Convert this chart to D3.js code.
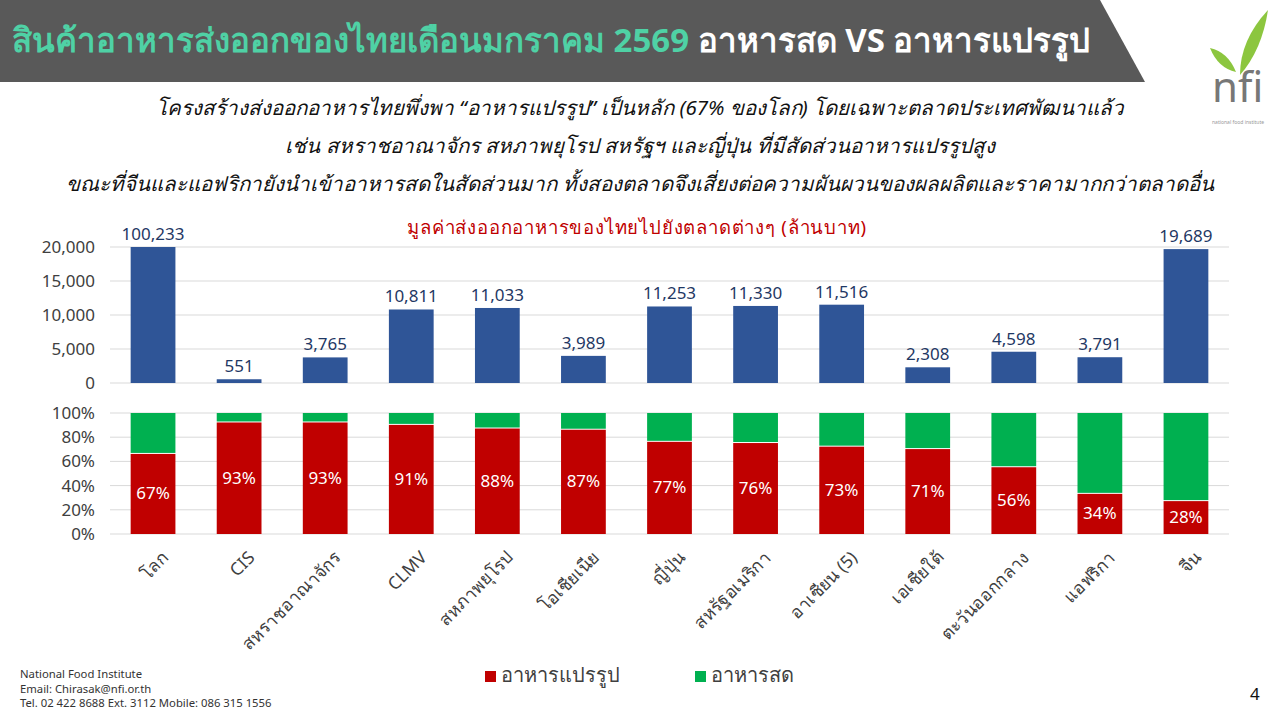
<!DOCTYPE html>
<html><head><meta charset="utf-8">
<script src="https://cdn.jsdelivr.net/npm/d3@7"></script>
<style>body{margin:0;background:#fff;font-family:Tahoma,"Noto Sans","DejaVu Sans",sans-serif}</style>
</head><body><svg id="c" width="1280" height="720"></svg>
<script>
const categories=["โลก","CIS","สหราชอาณาจักร","CLMV","สหภาพยุโรป","โอเชียเนีย","ญี่ปุ่น","สหรัฐอเมริกา","อาเซียน (5)","เอเชียใต้","ตะวันออกกลาง","แอฟริกา","จีน"];
const exportValues=[100233,551,3765,10811,11033,3989,11253,11330,11516,2308,4598,3791,19689];
const processedShare=[67,93,93,91,88,87,77,76,73,71,56,34,28];
const valueTicks=[0,5000,10000,15000,20000];
const pctTicks=[0,20,40,60,80,100];
const F="Tahoma,'Noto Sans','DejaVu Sans',sans-serif";
const svg=d3.select("#c");
svg.append("path").attr("d","M0,0H1100L1145,82H0Z").attr("fill","#595959");
const t=svg.append("text").attr("x",12).attr("y",52).attr("font-size",33).attr("font-family",F).attr("font-weight","bold");
t.append("tspan").attr("fill","#4fd1a5").text("สินค้าอาหารส่งออกของไทยเดือนมกราคม 2569 ");
t.append("tspan").attr("fill","#fff").text("อาหารสด VS อาหารแปรรูป");
// logo
const lg=svg.append("g");
lg.append("path").attr("d","M1210,48 Q1228,52 1236,72 Q1218,68 1210,48Z").attr("fill","#8cc63f");
lg.append("path").attr("d","M1268,10 Q1262,50 1240,75 Q1240,40 1268,10Z").attr("fill","#8cc63f");
lg.append("text").attr("x",1212).attr("y",102).attr("font-size",42).attr("font-family",F).attr("fill","#777").text("nfi");
lg.append("text").attr("x",1212).attr("y",124).attr("font-size",5).attr("fill","#999").text("national food institute");
const sub=["โครงสร้างส่งออกอาหารไทยพึ่งพา “อาหารแปรรูป” เป็นหลัก (67% ของโลก) โดยเฉพาะตลาดประเทศพัฒนาแล้ว","เช่น สหราชอาณาจักร สหภาพยุโรป สหรัฐฯ และญี่ปุ่น ที่มีสัดส่วนอาหารแปรรูปสูง","ขณะที่จีนและแอฟริกายังนำเข้าอาหารสดในสัดส่วนมาก ทั้งสองตลาดจึงเสี่ยงต่อความผันผวนของผลผลิตและราคามากกว่าตลาดอื่น"];
sub.forEach((s,i)=>svg.append("text").attr("x",640).attr("y",115+i*38).attr("text-anchor","middle").attr("font-size",20.5).attr("font-style","italic").attr("font-family",F).attr("fill","#111").text(s));
svg.append("text").attr("x",637).attr("y",234).attr("text-anchor","middle").attr("font-size",18.5).attr("letter-spacing",0.8).attr("fill","#c00000").attr("font-family",F).text("มูลค่าส่งออกอาหารของไทยไปยังตลาดต่างๆ  (ล้านบาท)");
const x=d3.scaleBand().domain(categories).range([110,1229]).paddingInner(0.48).paddingOuter(0.24);
const y1=d3.scaleLinear().domain([0,20000]).range([383,247]);
const y2=d3.scaleLinear().domain([0,100]).range([534,413]);
const grid=(sc,ticks,fmt)=>{
 ticks.forEach(v=>{svg.append("line").attr("x1",110).attr("x2",1229).attr("y1",sc(v)).attr("y2",sc(v)).attr("stroke","#d9d9d9");
 svg.append("text").attr("x",95).attr("y",sc(v)).attr("dy","0.35em").attr("text-anchor","end").attr("font-size",17).attr("fill","#404040").attr("font-family",F).text(fmt(v));});
};
grid(y1,valueTicks,d3.format(","));
grid(y2,pctTicks,d=>d+"%");
categories.forEach((c,i)=>{
 const v=exportValues[i],cv=Math.min(v,20000),bx=x(c),bw=x.bandwidth();
 svg.append("rect").attr("x",bx).attr("width",bw).attr("y",y1(cv)).attr("height",y1(0)-y1(cv)).attr("fill","#2f5597");
 svg.append("text").attr("x",bx+bw/2).attr("y",y1(cv)-7).attr("text-anchor","middle").attr("font-size",17).attr("fill","#1f3864").attr("font-family",F).text(d3.format(",")(v));
 const p=processedShare[i];
 svg.append("rect").attr("x",bx).attr("width",bw).attr("y",y2(100)).attr("height",y2(p)-y2(100)).attr("fill","#00b050");
 svg.append("rect").attr("x",bx).attr("width",bw).attr("y",y2(p)+1).attr("height",y2(0)-y2(p)-1).attr("fill","#c00000");
 svg.append("text").attr("x",bx+bw/2).attr("y",y2(p/2)).attr("dy","0.35em").attr("text-anchor","middle").attr("font-size",17).attr("fill","#fff").attr("font-family",F).text(p+"%");
 svg.append("text").attr("transform",`translate(${bx+bw/2+8},${550}) rotate(-45)`).attr("text-anchor","end").attr("dy","0.7em").attr("font-size",17.5).attr("fill","#404040").attr("font-family",F).text(c);
});
[["อาหารแปรรูป","#c00000",485],["อาหารสด","#00b050",695]].forEach(([l,c,px])=>{
 svg.append("rect").attr("x",px).attr("y",671).attr("width",11).attr("height",11).attr("fill",c);
 svg.append("text").attr("x",px+16).attr("y",682).attr("font-size",20).attr("fill","#404040").attr("font-family",F).text(l);
});
["National Food Institute","Email:  Chirasak@nfi.or.th","Tel. 02 422 8688 Ext. 3112 Mobile: 086 315 1556"].forEach((s,i)=>svg.append("text").attr("x",20).attr("y",678+i*14.7).attr("font-size",11.3).attr("fill","#333").attr("font-family",F).text(s));
svg.append("text").attr("x",1250).attr("y",700).attr("font-size",17).attr("fill","#111").attr("font-family",F).text("4");
</script></body></html>
